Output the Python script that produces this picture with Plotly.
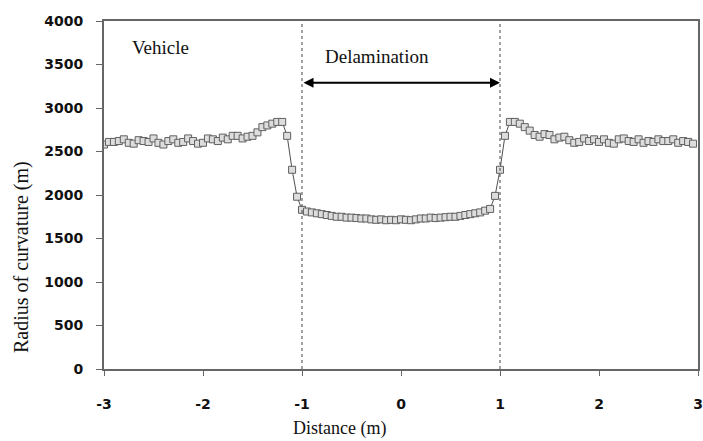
import numpy as np
import plotly.graph_objects as go

# distance along the deck (m), sampled every 0.05 m
distance = np.round(np.arange(-3.0, 3.0001, 0.05), 2)

radius_left = [2580, 2610, 2610, 2620, 2640, 2600, 2590, 2630, 2620, 2610,
               2650, 2600, 2580, 2620, 2640, 2600, 2610, 2650, 2620, 2590,
               2600, 2650, 2640, 2620, 2660, 2640, 2680, 2680, 2650, 2670,
               2680, 2720, 2780, 2800, 2820, 2840, 2840, 2680, 2290, 1980,
               1830]
radius_mid = [1810, 1800, 1790, 1780, 1770, 1760, 1750, 1750, 1740, 1740,
              1735, 1730, 1730, 1720, 1715, 1720, 1710, 1715, 1710, 1720,
              1715, 1710, 1720, 1730, 1730, 1740, 1735, 1740, 1745, 1750,
              1750, 1760, 1770, 1780, 1790, 1800, 1820, 1840]
radius_right = [1990, 2290, 2680, 2840, 2840, 2820, 2780, 2740, 2690, 2670,
                2700, 2690, 2640, 2660, 2670, 2630, 2600, 2610, 2650, 2620,
                2640, 2610, 2640, 2600, 2590, 2640, 2650, 2620, 2610, 2640,
                2600, 2620, 2610, 2640, 2620, 2620, 2640, 2600, 2620, 2610,
                2590]
radius = radius_left + radius_mid + radius_right

x_ticks = [-3, -2, -1, 0, 1, 2, 3]
delam_start, delam_end = -1, 1

fig = go.Figure()
fig.add_trace(go.Scatter(x=distance, y=radius, mode="lines+markers",
                         line=dict(color="#505050", width=1),
                         marker=dict(symbol="square", size=7, color="#dddddd",
                                     line=dict(color="#606060", width=1)),
                         showlegend=False))

for xv in [delam_start, delam_end]:
    fig.add_shape(type="line", x0=xv, x1=xv, y0=0, y1=4000, xref="x", yref="y",
                  line=dict(color="#444444", width=1, dash="dot"))

serif = "Liberation Serif, Times New Roman, serif"

fig.add_annotation(x=-2.74, y=3700, text="Vehicle", showarrow=False,
                   xanchor="left", font=dict(family=serif, size=19, color="#111111"))
fig.add_annotation(x=-0.24, y=3590, text="Delamination", showarrow=False,
                   font=dict(family=serif, size=19, color="#111111"))
fig.add_annotation(x=delam_end, y=3290, ax=delam_start, ay=3290, xref="x", yref="y",
                   axref="x", ayref="y", text="", showarrow=True, arrowhead=2,
                   arrowside="end+start", arrowsize=1, arrowwidth=2, arrowcolor="#000000")

fig.add_annotation(x=0.397, y=-0.17, xref="paper", yref="paper", text="Distance (m)",
                   xanchor="center", yanchor="middle", showarrow=False,
                   font=dict(family=serif, size=18, color="#111111"))
fig.add_annotation(x=-0.138, y=0.322, xref="paper", yref="paper",
                   text="Radius of curvature (m)", textangle=-90,
                   xanchor="center", yanchor="middle", showarrow=False,
                   font=dict(family=serif, size=20, color="#111111"))

tickfont = dict(family="DejaVu Sans, Verdana, sans-serif", size=14, color="#111111",
                weight="bold")

fig.update_xaxes(range=[-3, 3], tickvals=x_ticks, ticktext=[str(v) for v in x_ticks],
                 showline=True, linecolor="#666666", linewidth=2, mirror=True,
                 ticks="outside", ticklen=5, tickcolor="#666666", tickwidth=1,
                 ticklabelstandoff=16, showgrid=False, zeroline=False,
                 automargin=False, tickfont=tickfont)
fig.update_yaxes(range=[0, 4000], dtick=500,
                 showline=True, linecolor="#666666", linewidth=2, mirror=True,
                 ticks="outside", ticklen=6, tickcolor="#666666", tickwidth=1,
                 ticklabelstandoff=10, showgrid=False, zeroline=False,
                 automargin=False, tickfont=tickfont)

fig.update_layout(template="none", width=703, height=441,
                  plot_bgcolor="white", paper_bgcolor="white",
                  margin=dict(l=104, r=5, t=21, b=72), showlegend=False)

# drop the default body margin so the figure fills the window exactly
fig.write_html("out.html", config={"displayModeBar": False},
               post_script="document.body.style.margin = '0px';")
